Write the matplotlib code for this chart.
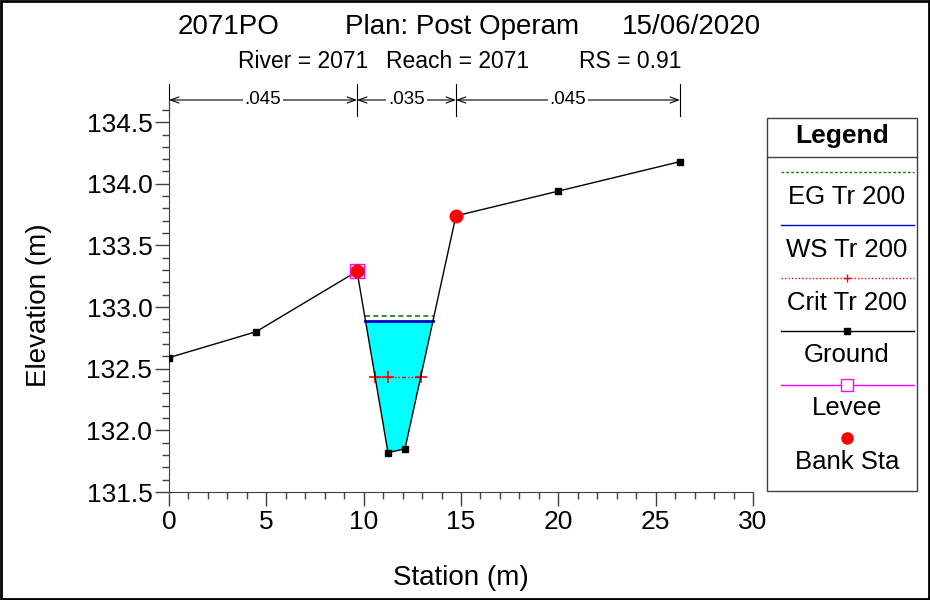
import numpy as np
import matplotlib
matplotlib.use("Agg")
import matplotlib.pyplot as plt
from matplotlib.patches import Rectangle
from matplotlib.ticker import MultipleLocator, FormatStrFormatter
import matplotlib.transforms as mtransforms

plt.rcParams['font.family'] = ['Liberation Sans', 'DejaVu Sans']

# ---- data ----
ground_sta = [0.0, 4.47, 9.66, 11.25, 12.12, 14.74, 19.98, 26.25]
ground_elev = [132.59, 132.80, 133.29, 131.82, 131.85, 133.74, 133.94, 134.18]
bank_sta = [9.66, 14.74]
bank_elev = [133.29, 133.74]
levee_sta = [9.66]
levee_elev = [133.29]
ws_elev = 132.89
eg_elev = 132.93
crit_elev = 132.43
crit_sta = [10.59, 11.25, 12.93]
n_bounds = [0.0, 9.66, 14.74, 26.25]
n_values = [".045", ".035", ".045"]
title_parts = ["2071PO", "Plan: Post Operam", "15/06/2020"]
subtitle_parts = ["River = 2071", "Reach = 2071", "RS = 0.91"]
legend_labels = ["EG Tr 200", "WS Tr 200", "Crit Tr 200", "Ground", "Levee", "Bank Sta"]

W, H = 930, 600
fig = plt.figure(figsize=(W / 100, H / 100), dpi=100)

def px(x0, y0, x1, y1):
    return [x0 / W, 1 - y1 / H, (x1 - x0) / W, (y1 - y0) / H]

ax = fig.add_axes(px(169, 100, 753, 492))
ax.set_xlim(0, 30)
ax.set_ylim(131.5, 134.68)

gx = np.array(ground_sta)
gy = np.array(ground_elev)

def crossings(level, a, b):
    xs = np.linspace(a, b, 4001)
    ys = np.interp(xs, gx, gy)
    idx = np.where(ys <= level)[0]
    return xs[idx[0]], xs[idx[-1]]

xl, xr = crossings(ws_elev, bank_sta[0], bank_sta[1])
xs = np.linspace(xl, xr, 2001)
ax.fill_between(xs, np.interp(xs, gx, gy), ws_elev, color='#00ffff', lw=0, zorder=1)
ax.plot([xl, xr], [ws_elev, ws_elev], color='#0000cc', lw=2, zorder=3)
el, er = crossings(eg_elev, bank_sta[0], bank_sta[1])
ax.plot([el, er], [eg_elev, eg_elev], color='#008800', lw=1.2, ls=(0, (3, 2)), zorder=3)
ax.plot(crit_sta, [crit_elev] * len(crit_sta), color='red', lw=1, ls=(0, (3, 1.5, 1, 1.5, 1, 1.5)),
        marker='+', ms=8, mew=1.2, zorder=3)

ax.plot(gx, gy, color='black', lw=1, marker='s', ms=5, zorder=4)
ax.plot(levee_sta, levee_elev, ls='none', marker='s', ms=10, mfc='none', mec='#ff00ff', mew=1, zorder=5)
ax.plot(bank_sta, bank_elev, ls='none', marker='o', ms=9, color='red', zorder=6)

for s in ['top', 'right']:
    ax.spines[s].set_visible(False)
for s in ['left', 'bottom']:
    ax.spines[s].set_color('#404040')
ax.xaxis.set_major_locator(MultipleLocator(5))
ax.xaxis.set_minor_locator(MultipleLocator(1))
ax.yaxis.set_major_locator(MultipleLocator(0.5))
ax.yaxis.set_minor_locator(MultipleLocator(0.1))
ax.yaxis.set_major_formatter(FormatStrFormatter('%.1f'))
ax.tick_params(which='major', length=10, width=1, color='#404040', labelsize=19, direction='out')
ax.tick_params(which='minor', length=5, width=1, color='#404040', direction='out')
ax.tick_params(axis='y', which='both', pad=2)
ax.tick_params(axis='x', which='both', pad=3)
ax.set_xlabel("Station (m)", fontsize=20)
ax.set_ylabel("Elevation (m)", fontsize=20)
ax.xaxis.set_label_coords(0.5, -(578 - 492) / 392, transform=ax.transAxes)
ax.xaxis.label.set_va('center')
ax.yaxis.set_label_coords((39 - 169) / 584, (492 - 305) / 392, transform=ax.transAxes)
ax.yaxis.label.set_va('center')

# Manning's n annotations
trans = mtransforms.blended_transform_factory(ax.transData, fig.transFigure)
ya = 1 - 100 / H
for b in n_bounds:
    ax.plot([b, b], [1 - 84 / H, 1 - 116 / H], transform=trans, color='black', lw=0.8, clip_on=False)
for i, lab in enumerate(n_values):
    a, b = n_bounds[i], n_bounds[i + 1]
    ax.annotate("", xy=(b, ya), xytext=(a, ya), xycoords=trans, textcoords=trans,
                arrowprops=dict(arrowstyle='<->,head_length=0.6,head_width=0.22', color='black', lw=0.8,
                                shrinkA=0, shrinkB=0), annotation_clip=False)
    ax.text((a + b) / 2, ya, lab, transform=trans, ha='center', va='center', fontsize=13.5,
            bbox=dict(facecolor='white', edgecolor='none', pad=1.5), clip_on=False)

for xc, t in zip([229, 462, 691], title_parts):
    fig.text(xc / W, 1 - 27 / H, t, ha='center', va='center', fontsize=20)
for xc, t in zip([303, 458, 630], subtitle_parts):
    fig.text(xc / W, 1 - 61 / H, t, ha='center', va='center', fontsize=16.5)

# Legend panel
lg = fig.add_axes([0, 0, 1, 1], facecolor='none')
lg.set_xlim(0, W)
lg.set_ylim(H, 0)
lg.axis('off')
lg.add_patch(Rectangle((767, 118), 150, 373, fill=False, ec='#404040', lw=1))
lg.plot([767, 917], [157, 157], color='#404040', lw=1)
lg.text(842, 136, "Legend", ha='center', va='center', fontsize=19, fontweight='bold')
x0, x1, xm = 781, 914, 847
ys_line = [172, 225, 278, 331, 385, 438]
ys_text = [197, 250, 303, 355, 408, 462]
lg.plot([x0, x1], [ys_line[0]] * 2, color='#008800', lw=1, ls=(0, (2, 1.5)))
lg.plot([x0, x1], [ys_line[1]] * 2, color='#0000cc', lw=1)
lg.plot([x0, x1], [ys_line[2]] * 2, color='red', lw=1, ls=(0, (1, 1.5)))
lg.plot([xm], [ys_line[2]], marker='+', color='red', ms=6)
lg.plot([x0, x1], [ys_line[3]] * 2, color='black', lw=1)
lg.plot([xm], [ys_line[3]], marker='s', color='black', ms=5)
lg.plot([x0, x1], [ys_line[4]] * 2, color='#ff00ff', lw=1)
lg.plot([xm], [ys_line[4]], marker='s', mfc='white', mec='#ff00ff', ms=9)
lg.plot([xm], [ys_line[5]], marker='o', color='red', ms=8)
for y, t in zip(ys_text, legend_labels):
    lg.text(xm, y, t, ha='center', va='center', fontsize=18.5)

lg.add_patch(Rectangle((1, 1), W - 2, H - 2, fill=False, ec='black', lw=2))

fig.savefig("out.png", dpi=100)
